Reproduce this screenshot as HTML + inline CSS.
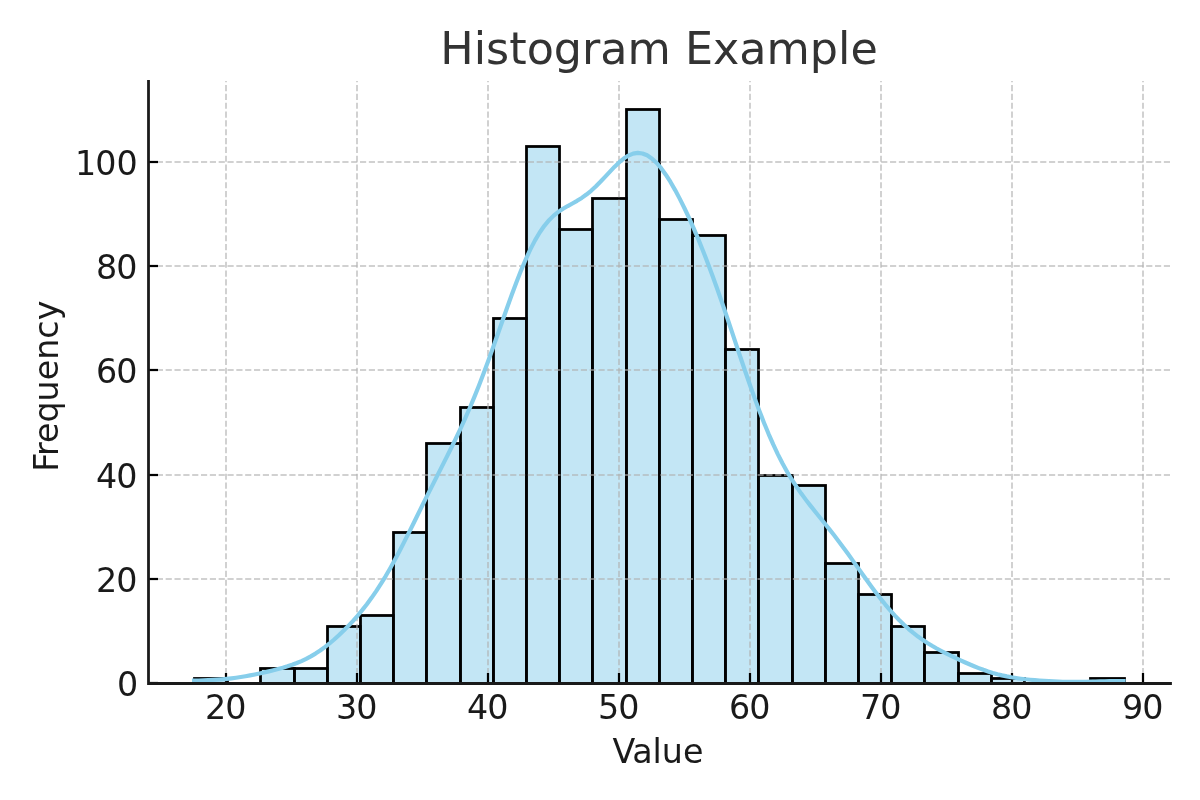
<!DOCTYPE html>
<html lang="en">
<head>
<meta charset="utf-8">
<title>Histogram Example</title>
<style>
html,body{margin:0;padding:0;background:#ffffff;}
body{width:1200px;height:800px;overflow:hidden;}
svg{display:block;}
text{white-space:pre;}
</style>
</head>
<body>
<svg width="1200" height="800" viewBox="0 0 1200 800">
<rect width="1200" height="800" fill="#ffffff"/>
<g fill="#87ceeb" fill-opacity="0.5" stroke="#000000" stroke-width="2.78" stroke-linejoin="miter">
<rect x="194.5" y="678.5" width="33" height="5"/>
<rect x="227.5" y="683.5" width="33" height="0"/>
<rect x="260.5" y="668.5" width="34" height="15"/>
<rect x="294.5" y="668.5" width="33" height="15"/>
<rect x="327.5" y="626.5" width="33" height="57"/>
<rect x="360.5" y="615.5" width="33" height="68"/>
<rect x="393.5" y="532.5" width="33" height="151"/>
<rect x="426.5" y="443.5" width="34" height="240"/>
<rect x="460.5" y="407.5" width="33" height="276"/>
<rect x="493.5" y="318.5" width="33" height="365"/>
<rect x="526.5" y="146.5" width="33" height="537"/>
<rect x="559.5" y="229.5" width="33" height="454"/>
<rect x="592.5" y="198.5" width="34" height="485"/>
<rect x="626.5" y="109.5" width="33" height="574"/>
<rect x="659.5" y="219.5" width="33" height="464"/>
<rect x="692.5" y="235.5" width="33" height="448"/>
<rect x="725.5" y="349.5" width="33" height="334"/>
<rect x="758.5" y="475.5" width="34" height="208"/>
<rect x="792.5" y="485.5" width="33" height="198"/>
<rect x="825.5" y="563.5" width="33" height="120"/>
<rect x="858.5" y="594.5" width="33" height="89"/>
<rect x="891.5" y="626.5" width="33" height="57"/>
<rect x="924.5" y="652.5" width="34" height="31"/>
<rect x="958.5" y="673.5" width="33" height="10"/>
<rect x="991.5" y="678.5" width="33" height="5"/>
<rect x="1024.5" y="683.5" width="33" height="0"/>
<rect x="1057.5" y="683.5" width="33" height="0"/>
<rect x="1090.5" y="678.5" width="34" height="5"/>
</g>
<g stroke="#b0b0b0" stroke-opacity="0.7" stroke-width="1.67" stroke-dasharray="6.1667 2.6667" fill="none">
<path d="M226 683 V81"/>
<path d="M357 683 V81"/>
<path d="M488 683 V81"/>
<path d="M619 683 V81"/>
<path d="M750 683 V81"/>
<path d="M881 683 V81"/>
<path d="M1012 683 V81"/>
<path d="M1143 683 V81"/>
<path stroke-opacity="0.775" d="M148 683 H1170"/>
<path stroke-opacity="0.775" d="M148 579 H1170"/>
<path stroke-opacity="0.775" d="M148 475 H1170"/>
<path stroke-opacity="0.775" d="M148 370 H1170"/>
<path stroke-opacity="0.775" d="M148 266 H1170"/>
<path stroke-opacity="0.775" d="M148 162 H1170"/>
</g>
<g fill="#000000">
<rect x="224.89" y="673" width="2.22" height="10"/>
<rect x="355.89" y="673" width="2.22" height="10"/>
<rect x="486.89" y="673" width="2.22" height="10"/>
<rect x="617.89" y="673" width="2.22" height="10"/>
<rect x="748.89" y="673" width="2.22" height="10"/>
<rect x="879.89" y="673" width="2.22" height="10"/>
<rect x="1010.89" y="673" width="2.22" height="10"/>
<rect x="1141.89" y="673" width="2.22" height="10"/>
<rect x="148" y="681.89" width="10" height="2.22"/>
<rect x="148" y="577.89" width="10" height="2.22"/>
<rect x="148" y="473.89" width="10" height="2.22"/>
<rect x="148" y="368.89" width="10" height="2.22"/>
<rect x="148" y="264.89" width="10" height="2.22"/>
<rect x="148" y="160.89" width="10" height="2.22"/>
</g>
<polyline points="194.06,680.6 198.73,680.46 203.4,680.3 208.07,680.12 212.74,679.91 217.41,679.64 222.08,679.3 226.75,678.87 231.42,678.36 236.09,677.75 240.76,677.06 245.43,676.27 250.11,675.41 254.78,674.48 259.45,673.49 264.12,672.45 268.79,671.37 273.46,670.23 278.13,669.03 282.8,667.74 287.47,666.33 292.14,664.77 296.81,663.03 301.48,661.07 306.15,658.86 310.82,656.38 315.5,653.6 320.17,650.52 324.84,647.14 329.51,643.47 334.18,639.52 338.85,635.3 343.52,630.82 348.19,626.08 352.86,621.06 357.53,615.76 362.2,610.15 366.87,604.19 371.54,597.85 376.21,591.1 380.88,583.92 385.56,576.3 390.23,568.25 394.9,559.8 399.57,551 404.24,541.92 408.91,532.63 413.58,523.21 418.25,513.75 422.92,504.29 427.59,494.9 432.26,485.58 436.93,476.33 441.6,467.12 446.27,457.88 450.95,448.53 455.62,438.98 460.29,429.14 464.96,418.93 469.63,408.26 474.3,397.1 478.97,385.43 483.64,373.28 488.31,360.67 492.98,347.72 497.65,334.52 502.32,321.22 506.99,308 511.66,295.02 516.34,282.49 521.01,270.6 525.68,259.52 530.35,249.4 535.02,240.37 539.69,232.5 544.36,225.79 549.03,220.21 553.7,215.62 558.37,211.88 563.04,208.77 567.71,206.05 572.38,203.48 577.05,200.82 581.73,197.9 586.4,194.57 591.07,190.76 595.74,186.48 600.41,181.79 605.08,176.83 609.75,171.8 614.42,166.92 619.09,162.43 623.76,158.59 628.43,155.61 633.1,153.68 637.77,152.93 642.44,153.46 647.11,155.3 651.79,158.42 656.46,162.75 661.13,168.2 665.8,174.66 670.47,181.99 675.14,190.09 679.81,198.86 684.48,208.24 689.15,218.17 693.82,228.64 698.49,239.64 703.16,251.16 707.83,263.19 712.5,275.72 717.18,288.7 721.85,302.07 726.52,315.75 731.19,329.62 735.86,343.59 740.53,357.51 745.2,371.28 749.87,384.76 754.54,397.85 759.21,410.44 763.88,422.44 768.55,433.79 773.22,444.43 777.89,454.34 782.57,463.5 787.24,471.95 791.91,479.73 796.58,486.91 801.25,493.59 805.92,499.87 810.59,505.88 815.26,511.7 819.93,517.46 824.6,523.23 829.27,529.09 833.94,535.06 838.61,541.18 843.28,547.45 847.96,553.85 852.63,560.35 857.3,566.91 861.97,573.47 866.64,579.99 871.31,586.42 875.98,592.69 880.65,598.75 885.32,604.57 889.99,610.11 894.66,615.34 899.33,620.24 904,624.8 908.67,629.03 913.34,632.93 918.02,636.53 922.69,639.85 927.36,642.93 932.03,645.78 936.7,648.46 941.37,650.99 946.04,653.4 950.71,655.72 955.38,657.96 960.05,660.13 964.72,662.24 969.39,664.28 974.06,666.23 978.73,668.08 983.41,669.82 988.08,671.42 992.75,672.89 997.42,674.21 1002.09,675.37 1006.76,676.39 1011.43,677.28 1016.1,678.04 1020.77,678.7 1025.44,679.27 1030.11,679.76 1034.78,680.19 1039.45,680.56 1044.12,680.89 1048.8,681.17 1053.47,681.41 1058.14,681.6 1062.81,681.74 1067.48,681.83 1072.15,681.88 1076.82,681.88 1081.49,681.84 1086.16,681.77 1090.83,681.66 1095.5,681.53 1100.17,681.4 1104.84,681.27 1109.51,681.16 1114.19,681.07 1118.86,681.02 1123.53,681.01" fill="none" stroke="#87ceeb" stroke-width="4.17" stroke-linejoin="round" stroke-linecap="square"/>
<path fill="#1a1a1a" d="M147.11 80.11 H149.89 V682.11 H1171.89 V684.89 H147.11 Z"/>
<g font-family="'DejaVu Sans', 'Liberation Sans', sans-serif" fill="#1a1a1a" font-size="33.33">
<text x="225.67" y="718.9" dx="0 -1" text-anchor="middle">20</text>
<text x="356.69" y="718.9" dx="0 -1" text-anchor="middle">30</text>
<text x="487.71" y="718.9" dx="0 -1" text-anchor="middle">40</text>
<text x="618.73" y="718.9" dx="0 -1" text-anchor="middle">50</text>
<text x="749.76" y="718.9" dx="0 -1" text-anchor="middle">60</text>
<text x="880.78" y="718.9" dx="0 -1" text-anchor="middle">70</text>
<text x="1011.8" y="718.9" dx="0 -1" text-anchor="middle">80</text>
<text x="1142.82" y="718.9" dx="0 -1" text-anchor="middle">90</text>
<text x="138.18" y="696.27" text-anchor="end">0</text>
<text x="137.43" y="591.94" dx="0 -1" text-anchor="end">20</text>
<text x="137.43" y="487.61" dx="0 -1" text-anchor="end">40</text>
<text x="137.43" y="383.28" dx="0 -1" text-anchor="end">60</text>
<text x="137.43" y="278.95" dx="0 -1" text-anchor="end">80</text>
<text x="137.66" y="174.62" dx="0 -1" text-anchor="end">100</text>
<text x="658.02" y="762.6" dx="0 -0.65" text-anchor="middle">Value</text>
<text transform="translate(58 386.17) rotate(-90)" dx="0 -1" text-anchor="middle">Frequency</text>
<text x="659.04" y="64" text-anchor="middle" font-size="44.44" fill="#333333">Histogram Example</text>
</g>
</svg>
</body>
</html>
